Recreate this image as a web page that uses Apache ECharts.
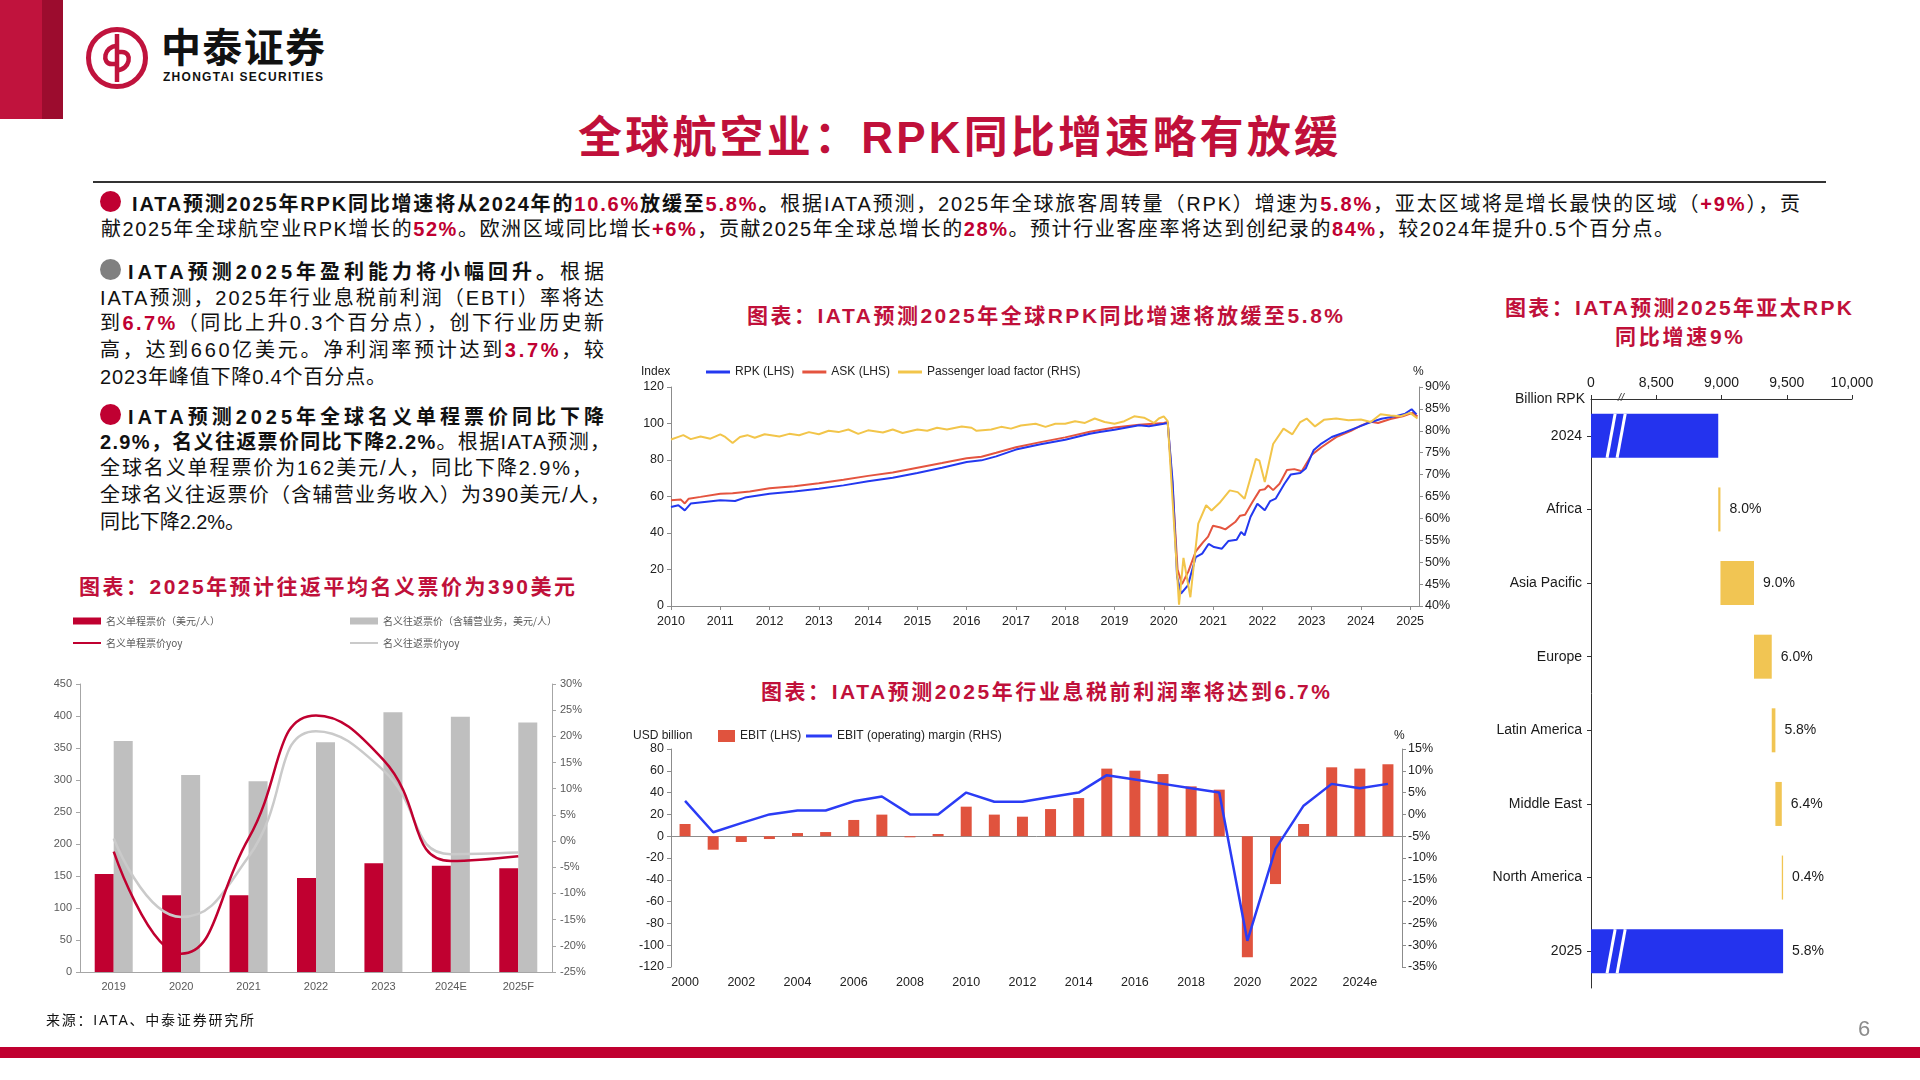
<!DOCTYPE html>
<html>
<head>
<meta charset="utf-8">
<script src="https://cdn.jsdelivr.net/npm/echarts@6/dist/echarts.min.js"></script>
<style>
  html, body { margin: 0; padding: 0; background: #fff; }
  #page { position: relative; width: 1920px; height: 1080px; overflow: hidden; background: #fff;
          font-family: "Liberation Sans", "Noto Sans CJK SC", sans-serif; color: #111; }
  .t { position: absolute; white-space: nowrap; line-height: 1.25; }
  .p { font-size: 20px; font-family: "Liberation Sans", "Noto Sans CJK SC", sans-serif; }
  .r { color: #C00032; font-weight: bold; }
  .ct { font-size: 21px; font-weight: bold; color: #C0103A; font-family: "Liberation Sans", "Noto Sans CJK SC", sans-serif; }
  .dot { position: absolute; width: 21px; height: 21px; border-radius: 50%; }
  #chart { position: absolute; left: 0; top: 0; width: 1920px; height: 1080px; }
</style>
</head>
<body>
<div id="page">
  <div style="position:absolute;left:0;top:0;width:42px;height:119px;background:#C0133D"></div>
  <div style="position:absolute;left:42px;top:0;width:21px;height:119px;background:#9C0C2E"></div>
  <svg style="position:absolute;left:85px;top:26px" width="64" height="64" viewBox="0 0 64 64">
    <circle cx="32" cy="32" r="28.5" fill="none" stroke="#C0133D" stroke-width="5"/>
    <path d="M32 8 V56" stroke="#C0133D" stroke-width="4.5" fill="none"/>
    <path d="M32 20 C19 20 16 38 27 38 L32 38" stroke="#C0133D" stroke-width="4.5" fill="none"/>
    <path d="M32 44 C45 44 48 26 37 26 L32 26" stroke="#C0133D" stroke-width="4.5" fill="none"/>
  </svg>
  <div class="t" data-x="161" data-y="48" data-w="164" style="font-size:40px;font-weight:bold;color:#111">中泰证券</div>
  <div class="t" data-x="163" data-y="77" data-w="160" style="font-size:12px;font-weight:bold;color:#111">ZHONGTAI SECURITIES</div>

  <div class="t" data-x="578" data-y="137" data-w="760" style="font-size:44px;font-weight:bold;color:#C0103A">全球航空业：RPK同比增速略有放缓</div>
  <div style="position:absolute;left:93px;top:181px;width:1733px;height:2px;background:#333"></div>

  <div class="dot" style="left:100px;top:191px;background:#C00032"></div>
  <div class="t p" data-x="132" data-y="204" data-w="1668"><b>IATA预测2025年RPK同比增速将从2024年的<span class="r">10.6%</span>放缓至<span class="r">5.8%</span>。</b>根据IATA预测，2025年全球旅客周转量（RPK）增速为<span class="r">5.8%</span>，亚太区域将是增长最快的区域（<span class="r">+9%</span>），贡</div>
  <div class="t p" data-x="101" data-y="229" data-w="1573">献2025年全球航空业RPK增长的<span class="r">52%</span>。欧洲区域同比增长<span class="r">+6%</span>，贡献2025年全球总增长的<span class="r">28%</span>。预计行业客座率将达到创纪录的<span class="r">84%</span>，较2024年提升0.5个百分点。</div>

  <div class="dot" style="left:100px;top:259px;background:#808080"></div>
  <div class="t p" data-x="128" data-y="272" data-w="476"><b>IATA预测2025年盈利能力将小幅回升。</b>根据</div>
  <div class="t p" data-x="100" data-y="298" data-w="504">IATA预测，2025年行业息税前利润（EBTI）率将达</div>
  <div class="t p" data-x="100" data-y="323" data-w="504">到<span class="r">6.7%</span>（同比上升0.3个百分点），创下行业历史新</div>
  <div class="t p" data-x="100" data-y="350" data-w="504">高，达到660亿美元。净利润率预计达到<span class="r">3.7%</span>，较</div>
  <div class="t p" data-x="100" data-y="377" data-w="286">2023年峰值下降0.4个百分点。</div>

  <div class="dot" style="left:100px;top:404px;background:#C00032"></div>
  <div class="t p" data-x="128" data-y="417" data-w="476"><b>IATA预测2025年全球名义单程票价同比下降</b></div>
  <div class="t p" data-x="100" data-y="442" data-w="510"><b>2.9%，名义往返票价同比下降2.2%</b>。根据IATA预测，</div>
  <div class="t p" data-x="100" data-y="468" data-w="492">全球名义单程票价为162美元/人，同比下降2.9%，</div>
  <div class="t p" data-x="100" data-y="495" data-w="510">全球名义往返票价（含辅营业务收入）为390美元/人，</div>
  <div class="t p" data-x="100" data-y="522" data-w="145">同比下降2.2%。</div>

  <div class="t ct" data-x="79" data-y="587" data-w="496">图表：2025年预计往返平均名义票价为390美元</div>
  <div class="t ct" data-x="747" data-y="316" data-w="596">图表：IATA预测2025年全球RPK同比增速将放缓至5.8%</div>
  <div class="t ct" data-x="761" data-y="692" data-w="569">图表：IATA预测2025年行业息税前利润率将达到6.7%</div>
  <div class="t ct" data-x="1505" data-y="308" data-w="347">图表：IATA预测2025年亚太RPK</div>
  <div class="t ct" data-x="1615" data-y="337" data-w="128">同比增速9%</div>

  <div id="chart"></div>

  <div class="t" data-x="46" data-y="1021" data-w="208" style="font-size:14px;color:#111">来源：IATA、中泰证券研究所</div>
  <div class="t" data-x="1858" data-y="1029" style="font-size:22px;color:#8C8C8C">6</div>
  <div style="position:absolute;left:0;top:1047px;width:1920px;height:11px;background:#C00030"></div>
</div>

<script>
// ---- fare chart (left) ----
const fareYears = ['2019', '2020', '2021', '2022', '2023', '2024E', '2025F'];
const oneWayFare = [153, 120, 120, 147, 170, 166, 162];
const roundTripFare = [361, 308, 298, 359, 406, 399, 390];
const oneWayYoy = [-2.0, -21.5, 0.5, 24.0, 15.5, -3.8, -2.9];
const roundTripYoy = [0.5, -14.5, -3.0, 21.0, 13.5, -2.5, -2.2];

// ---- RPK / ASK index and load factor (top middle) ----
const rpkIndex = [[2010.0, 54.2], [2010.15, 55.2], [2010.28, 52.4], [2010.4, 56.1], [2011.0, 57.9], [2011.3, 57.5],
  [2011.5, 59.4], [2012.0, 61.5], [2012.5, 62.8], [2013.0, 64.3], [2013.5, 66.1], [2014.0, 68.3], [2014.5, 70.3],
  [2015.0, 72.9], [2015.5, 75.8], [2016.0, 78.9], [2016.3, 79.8], [2016.6, 82.0], [2017.0, 85.7], [2017.5, 88.6],
  [2018.0, 91.1], [2018.5, 94.4], [2018.7, 95.3], [2019.0, 96.6], [2019.5, 99.0], [2019.7, 98.5], [2020.0, 99.9],
  [2020.08, 100.3], [2020.18, 68.0], [2020.27, 16.0], [2020.35, 6.8], [2020.49, 11.3], [2020.65, 26.8], [2020.78, 28.7],
  [2020.91, 34.0], [2021.02, 32.3], [2021.18, 31.4], [2021.31, 35.6], [2021.48, 36.3], [2021.57, 40.5], [2021.64, 38.7],
  [2021.76, 48.8], [2021.9, 56.0], [2022.05, 52.4], [2022.16, 57.5], [2022.27, 58.8], [2022.45, 67.0], [2022.58, 72.1],
  [2022.77, 72.9], [2022.88, 75.3], [2023.04, 85.3], [2023.2, 89.0], [2023.41, 92.6], [2023.68, 95.3], [2023.94, 98.0],
  [2024.15, 100.3], [2024.42, 102.6], [2024.69, 103.9], [2024.9, 105.4], [2025.03, 107.8], [2025.13, 105.0]];
const askIndex = [[2010.0, 58.0], [2010.2, 58.3], [2010.28, 56.2], [2010.36, 58.8], [2010.6, 59.8], [2011.0, 61.5],
  [2011.25, 61.8], [2011.6, 62.8], [2012.0, 64.5], [2012.5, 65.6], [2013.0, 67.2], [2013.5, 69.2], [2014.0, 71.3],
  [2014.5, 73.2], [2015.0, 75.8], [2015.5, 78.3], [2016.0, 81.0], [2016.3, 81.8], [2016.6, 84.0], [2017.0, 87.0],
  [2017.5, 89.8], [2018.0, 92.4], [2018.5, 95.5], [2019.0, 97.8], [2019.5, 99.3], [2020.0, 100.3], [2020.08, 100.8],
  [2020.18, 65.0], [2020.28, 20.0], [2020.37, 12.0], [2020.5, 19.0], [2020.65, 30.0], [2020.8, 35.0], [2020.9, 38.0],
  [2021.0, 44.0], [2021.15, 43.0], [2021.25, 42.0], [2021.45, 46.0], [2021.55, 49.5], [2021.65, 50.0], [2021.8, 57.0],
  [2021.95, 63.5], [2022.05, 64.0], [2022.12, 66.0], [2022.22, 63.5], [2022.35, 67.0], [2022.5, 74.5], [2022.65, 75.0],
  [2022.8, 73.8], [2023.0, 82.8], [2023.2, 87.0], [2023.5, 92.5], [2023.8, 96.0], [2024.0, 98.8], [2024.2, 101.0],
  [2024.35, 100.3], [2024.6, 102.5], [2024.85, 104.0], [2025.05, 105.8], [2025.15, 103.8]];
const loadFactor = [[2010.0, 78.0], [2010.15, 78.6], [2010.25, 79.0], [2010.4, 78.1], [2010.6, 78.7], [2010.8, 78.2],
  [2011.0, 79.2], [2011.1, 78.6], [2011.25, 77.2], [2011.4, 78.6], [2011.55, 79.0], [2011.7, 78.4], [2011.9, 79.2],
  [2012.2, 78.7], [2012.4, 79.3], [2012.6, 79.0], [2012.8, 79.7], [2013.0, 79.2], [2013.2, 80.0], [2013.4, 79.7],
  [2013.6, 80.3], [2013.8, 79.3], [2014.0, 80.1], [2014.3, 79.6], [2014.5, 80.3], [2014.7, 79.5], [2015.0, 80.3],
  [2015.2, 80.0], [2015.4, 80.7], [2015.6, 80.3], [2015.9, 81.0], [2016.1, 80.7], [2016.2, 80.0], [2016.5, 80.3],
  [2016.7, 80.9], [2016.9, 80.5], [2017.1, 81.2], [2017.4, 81.6], [2017.6, 80.9], [2017.8, 81.6], [2018.0, 81.6],
  [2018.2, 82.2], [2018.4, 81.8], [2018.6, 82.8], [2018.8, 82.0], [2019.0, 81.6], [2019.2, 82.2], [2019.4, 83.3],
  [2019.6, 83.0], [2019.8, 81.8], [2019.9, 82.8], [2020.0, 83.3], [2020.08, 82.2], [2020.31, 40.3], [2020.4, 51.0],
  [2020.54, 42.0], [2020.7, 58.8], [2020.86, 63.0], [2020.97, 61.8], [2021.13, 63.5], [2021.34, 66.4], [2021.5, 66.0],
  [2021.64, 64.5], [2021.87, 73.6], [2021.94, 73.2], [2022.05, 68.3], [2022.22, 77.0], [2022.43, 80.5], [2022.61, 79.2],
  [2022.77, 82.0], [2022.9, 82.8], [2023.07, 81.0], [2023.25, 82.5], [2023.5, 82.8], [2023.75, 82.4], [2024.0, 82.6],
  [2024.2, 82.0], [2024.4, 83.8], [2024.6, 83.5], [2024.8, 83.3], [2025.0, 84.1], [2025.15, 82.8]];

// ---- EBIT (bottom middle) ----
const ebitYears = ['2000', '2001', '2002', '2003', '2004', '2005', '2006', '2007', '2008', '2009', '2010', '2011', '2012',
  '2013', '2014', '2015', '2016', '2017', '2018', '2019', '2020', '2021', '2022', '2023', '2024', '2025'];
const ebitValues = [11.2, -12.4, -5.3, -2.6, 2.9, 3.8, 14.9, 19.8, -1.0, 2.0, 27.1, 19.8, 17.9, 24.9, 35.0, 62.0, 60.1,
  57.0, 45.7, 42.7, -111.0, -43.9, 11.2, 63.2, 62.0, 66.0];
const ebitMargin = [3.1, -4.1, -2.0, 0.0, 0.9, 0.9, 3.0, 4.1, 0.0, 0.0, 5.0, 2.9, 2.9, 4.0, 5.0, 9.0, 8.0, 7.0, 6.0, 5.0,
  -29.0, -7.9, 2.0, 7.0, 6.0, 7.0];

// ---- regional RPK bridge (right) ----
const regions = ['2024', 'Africa', 'Asia Pacific', 'Europe', 'Latin America', 'Middle East', 'North America', '2025'];
const rpk2024 = 8975;
const regionAdds = [17, 257, 136, 28, 49, 10];
const growthLabels = ['8.0%', '9.0%', '6.0%', '5.8%', '6.4%', '0.4%'];
const growth2025 = '5.8%';

// waterfall pieces built from the arrays above
let running = rpk2024;
const wfBase = [0];
const wfAdd = ['-'];
regionAdds.forEach(v => { wfBase.push(running); wfAdd.push(v); running += v; });
wfBase.push(0); wfAdd.push('-');
const wfTotal = [rpk2024].concat(regionAdds.map(() => '-')).concat([running]);

const gridLine = { show: true, lineStyle: { color: '#8C8C8C', width: 1 } };
const noSplit = { show: false };
const thinLine = 'path://M0,0H28V2H0Z';

const chart = echarts.init(document.getElementById('chart'), null, { width: 1920, height: 1080 });

chart.setOption({
  animation: false,
  textStyle: { fontFamily: 'Liberation Sans, Noto Sans CJK SC, sans-serif' },
  grid: [
    { left: 80, top: 684, width: 472, height: 288 },
    { left: 671, top: 387, width: 748, height: 219 },
    { left: 671, top: 749, width: 731, height: 218 },
    { left: 1591, top: 399, width: 261, height: 589 }
  ],
  legend: [
    { left: 73, top: 616, orient: 'vertical', itemGap: 12, padding: 0, itemWidth: 28, itemHeight: 7, symbolKeepAspect: true,
      data: [{ name: '名义单程票价（美元/人）', icon: 'rect' }, { name: '名义单程票价yoy', icon: thinLine }],
      textStyle: { fontSize: 10, color: '#595959', fontFamily: 'Noto Sans CJK SC' } },
    { left: 350, top: 616, orient: 'vertical', itemGap: 12, padding: 0, itemWidth: 28, itemHeight: 7, symbolKeepAspect: true,
      data: [{ name: '名义往返票价（含辅营业务，美元/人）', icon: 'rect' }, { name: '名义往返票价yoy', icon: thinLine }],
      textStyle: { fontSize: 10, color: '#595959', fontFamily: 'Noto Sans CJK SC' } },
    { left: 706, top: 366, itemGap: 8, padding: 0, itemWidth: 24, itemHeight: 3, icon: 'rect',
      data: ['RPK (LHS)', 'ASK (LHS)', 'Passenger load factor (RHS)'],
      textStyle: { fontSize: 12, color: '#222' } },
    { left: 718, top: 730, padding: 0, itemWidth: 17, itemHeight: 12, icon: 'rect',
      data: ['EBIT (LHS)'], textStyle: { fontSize: 12, color: '#222' } },
    { left: 806, top: 730, padding: 0, itemWidth: 26, itemHeight: 3, icon: 'rect',
      data: ['EBIT (operating) margin (RHS)'], textStyle: { fontSize: 12, color: '#222' } }
  ],
  xAxis: [
    { gridIndex: 0, type: 'category', data: fareYears,
      axisLine: { onZero: false, lineStyle: { color: '#A6A6A6' } }, axisTick: { lineStyle: { color: '#A6A6A6' } },
      axisLabel: { color: '#595959', fontSize: 11, margin: 9 } },
    { gridIndex: 1, type: 'value', min: 2010, max: 2025.18, interval: 1,
      axisLine: { show: true, onZero: false, lineStyle: { color: '#8C8C8C' } },
      axisTick: { show: true, length: 4, lineStyle: { color: '#8C8C8C' } }, splitLine: noSplit,
      axisLabel: { fontSize: 12.5, color: '#222', margin: 9, showMaxLabel: false,
        formatter: v => Number.isInteger(v) ? String(v) : '' } },
    { gridIndex: 2, type: 'category', data: ebitYears,
      axisLine: { show: false, onZero: false }, axisTick: { show: false },
      axisLabel: { interval: 1, fontSize: 12.5, color: '#222', margin: 9,
        formatter: v => v === '2024' ? '2024e' : v } },
    { gridIndex: 2, type: 'category', data: ebitYears,
      axisLine: { onZero: true, onZeroAxisIndex: 4, lineStyle: { color: '#8C8C8C' } },
      axisTick: { alignWithLabel: true, interval: 0, length: 4, lineStyle: { color: '#8C8C8C' } },
      axisLabel: { show: false } },
    { gridIndex: 3, type: 'value', position: 'top', min: 8000, max: 10000, interval: 500,
      axisLine: { show: true, onZero: false, lineStyle: { color: '#333' } },
      axisTick: { show: true, length: 4, lineStyle: { color: '#333' } }, splitLine: noSplit,
      axisLabel: { fontSize: 14, color: '#1a1a1a', margin: 9,
        formatter: v => v === 8000 ? '0' : v.toLocaleString('en-US') } }
  ],
  yAxis: [
    { gridIndex: 0, type: 'value', min: 0, max: 450, interval: 50, splitLine: noSplit,
      axisLine: { show: true, lineStyle: { color: '#A6A6A6' } }, axisTick: { show: true, length: 4 },
      axisLabel: { color: '#595959', fontSize: 11, margin: 8 } },
    { gridIndex: 0, type: 'value', position: 'right', min: -25, max: 30, interval: 5, splitLine: noSplit,
      axisLine: { show: true, lineStyle: { color: '#A6A6A6' } }, axisTick: { show: true, length: 4 },
      axisLabel: { color: '#595959', fontSize: 11, margin: 8, formatter: '{value}%' } },
    { gridIndex: 1, type: 'value', min: 0, max: 120, interval: 20, splitLine: noSplit,
      axisLine: gridLine, axisTick: { show: true, length: 4, lineStyle: { color: '#8C8C8C' } },
      axisLabel: { fontSize: 12.5, color: '#222', margin: 7 } },
    { gridIndex: 1, type: 'value', position: 'right', min: 40, max: 90, interval: 5, splitLine: noSplit,
      axisLine: gridLine, axisTick: { show: true, length: 4, lineStyle: { color: '#8C8C8C' } },
      axisLabel: { fontSize: 12.5, color: '#222', margin: 6, formatter: '{value}%' } },
    { gridIndex: 2, type: 'value', min: -120, max: 80, interval: 20, splitLine: noSplit,
      axisLine: gridLine, axisTick: { show: true, length: 4, lineStyle: { color: '#8C8C8C' } },
      axisLabel: { fontSize: 12.5, color: '#222', margin: 7 } },
    { gridIndex: 2, type: 'value', position: 'right', min: -35, max: 15, interval: 5, splitLine: noSplit,
      axisLine: gridLine, axisTick: { show: true, length: 4, lineStyle: { color: '#8C8C8C' } },
      axisLabel: { fontSize: 12.5, color: '#222', margin: 6, formatter: '{value}%' } },
    { gridIndex: 3, type: 'category', data: regions, inverse: true,
      axisLine: { show: true, onZero: false, lineStyle: { color: '#333' } },
      axisTick: { show: true, alignWithLabel: true, length: 4, lineStyle: { color: '#333' } },
      axisLabel: { fontSize: 14, color: '#1a1a1a', margin: 9 } }
  ],
  series: [
    { name: '名义单程票价（美元/人）', type: 'bar', xAxisIndex: 0, yAxisIndex: 0, data: oneWayFare,
      barWidth: 19, barGap: '0%', itemStyle: { color: '#C00030' } },
    { name: '名义往返票价（含辅营业务，美元/人）', type: 'bar', xAxisIndex: 0, yAxisIndex: 0, data: roundTripFare,
      barWidth: 19, barGap: '0%', itemStyle: { color: '#BFBFBF' } },
    { name: '名义往返票价yoy', type: 'line', xAxisIndex: 0, yAxisIndex: 1, data: roundTripYoy, smooth: 0.5,
      symbol: 'none', lineStyle: { color: '#CACACA', width: 2.5 }, itemStyle: { color: '#CACACA' } },
    { name: '名义单程票价yoy', type: 'line', xAxisIndex: 0, yAxisIndex: 1, data: oneWayYoy, smooth: 0.5,
      symbol: 'none', lineStyle: { color: '#C00030', width: 2.5 }, itemStyle: { color: '#C00030' } },

    { name: 'ASK (LHS)', type: 'line', xAxisIndex: 1, yAxisIndex: 2, data: askIndex, symbol: 'none',
      lineStyle: { color: '#E4543F', width: 2 }, itemStyle: { color: '#E4543F' }, z: 2 },
    { name: 'RPK (LHS)', type: 'line', xAxisIndex: 1, yAxisIndex: 2, data: rpkIndex, symbol: 'none',
      lineStyle: { color: '#2338F0', width: 2 }, itemStyle: { color: '#2338F0' }, z: 3 },
    { name: 'Passenger load factor (RHS)', type: 'line', xAxisIndex: 1, yAxisIndex: 3, data: loadFactor, symbol: 'none',
      lineStyle: { color: '#F2C54A', width: 2 }, itemStyle: { color: '#F2C54A' }, z: 4 },

    { name: 'EBIT (LHS)', type: 'bar', xAxisIndex: 2, yAxisIndex: 4, data: ebitValues, barWidth: 11,
      itemStyle: { color: '#E0533E' } },
    { name: 'EBIT (operating) margin (RHS)', type: 'line', xAxisIndex: 2, yAxisIndex: 5, data: ebitMargin,
      symbol: 'none', lineStyle: { color: '#2B3CF5', width: 2.5 }, itemStyle: { color: '#2B3CF5' }, z: 5 },

    { name: 'wfBase', type: 'bar', xAxisIndex: 4, yAxisIndex: 6, stack: 'wf', data: wfBase, barWidth: 44,
      silent: true, itemStyle: { color: 'rgba(0,0,0,0)' } },
    { name: 'wfTotal', type: 'bar', xAxisIndex: 4, yAxisIndex: 6, stack: 'wf', data: wfTotal, barWidth: 44,
      itemStyle: { color: '#2433EE' },
      label: { show: true, position: 'right', distance: 9, fontSize: 14, color: '#1a1a1a',
        formatter: p => p.dataIndex === regions.length - 1 ? growth2025 : '' } },
    { name: 'wfAdd', type: 'bar', xAxisIndex: 4, yAxisIndex: 6, stack: 'wf', data: wfAdd, barWidth: 44,
      itemStyle: { color: '#F1C553' },
      label: { show: true, position: 'right', distance: 9, fontSize: 14, color: '#1a1a1a',
        formatter: p => growthLabels[p.dataIndex - 1] || '' } }
  ]
});

// axis captions and break marks, placed through the grids' own scales
const px = (v, c) => chart.convertToPixel({ gridIndex: 3 }, [v, c]);
const breakMarks = [];
[regions[0], regions[regions.length - 1]].forEach(cat => {
  const a = px(8123, cat), b = px(8185, cat), c = px(8200, cat), d = px(8262, cat);
  breakMarks.push({ type: 'line', shape: { x1: a[0], y1: a[1] + 22, x2: b[0], y2: b[1] - 22 }, style: { stroke: '#fff', lineWidth: 3 }, z: 100 });
  breakMarks.push({ type: 'line', shape: { x1: c[0], y1: c[1] + 22, x2: d[0], y2: d[1] - 22 }, style: { stroke: '#fff', lineWidth: 3 }, z: 100 });
});
const axisBreak = chart.convertToPixel({ xAxisIndex: 4 }, 8245);

chart.setOption({
  graphic: breakMarks.concat([
    { type: 'text', left: axisBreak - 5, top: 392, style: { text: '//', fontSize: 11, fill: '#333', fontStyle: 'italic' } },
    { type: 'text', right: 1920 - 1585, top: 392, style: { text: 'Billion RPK', fontSize: 14, fill: '#1a1a1a' } },
    { type: 'text', left: 641, top: 366, style: { text: 'Index', fontSize: 12, fill: '#222' } },
    { type: 'text', left: 1413, top: 366, style: { text: '%', fontSize: 12, fill: '#222' } },
    { type: 'text', left: 633, top: 730, style: { text: 'USD billion', fontSize: 12, fill: '#222' } },
    { type: 'text', left: 1394, top: 730, style: { text: '%', fontSize: 12, fill: '#222' } }
  ])
});

// place slide texts and stretch justified lines to their widths
function placeTexts() {
  document.querySelectorAll('.t').forEach(el => {
    el.style.left = el.dataset.x + 'px';
    if (el.dataset.w) {
      el.style.letterSpacing = '0px';
      const nat = el.getBoundingClientRect().width;
      const n = Array.from(el.textContent).length;
      el.style.letterSpacing = ((+el.dataset.w - nat) / (n - 1)) + 'px';
    }
    const h = el.getBoundingClientRect().height;
    el.style.top = (+el.dataset.y - h / 2) + 'px';
  });
}
placeTexts();
if (document.fonts && document.fonts.ready) document.fonts.ready.then(placeTexts);
</script>
</body>
</html>
